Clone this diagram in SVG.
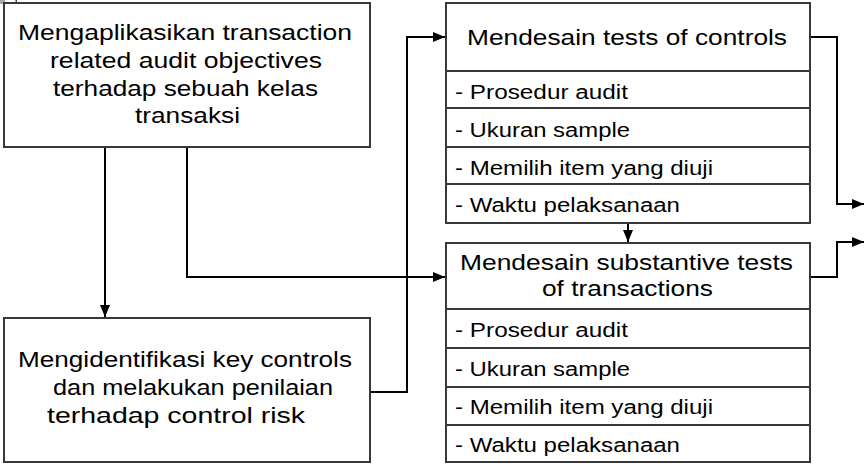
<svg xmlns="http://www.w3.org/2000/svg" width="864" height="466" viewBox="0 0 864 466">
  <style>
    .box { fill: #ffffff; stroke: #383838; stroke-width: 2; }
    .div { stroke: #383838; stroke-width: 2; }
    .lbl { font-family: "Liberation Sans", Arial, sans-serif; font-size: 21.5px; fill: #000000; }
    .item { font-family: "Liberation Sans", Arial, sans-serif; font-size: 20px; fill: #000000; }
    .conn { fill: none; stroke: #000000; stroke-width: 2; }
  </style>
  <defs>
    <marker id="arrow" markerUnits="userSpaceOnUse" markerWidth="12" markerHeight="10" refX="12" refY="5" orient="auto">
      <path d="M0,0 L12,5 L0,10 z" fill="#000000"/>
    </marker>
  </defs>

  <rect width="864" height="466" fill="#ffffff"/>

  <!-- corner marks -->
  <rect x="0" y="0" width="5" height="4" fill="#a8a8a8"/>
  <rect x="15.5" y="0" width="1.5" height="3" fill="#444444"/>

  <!-- connectors -->
  <g id="connectors">
    <path class="conn" d="M105,147 V317" marker-end="url(#arrow)"/>
    <path class="conn" d="M187,147 V277 H445" marker-end="url(#arrow)"/>
    <path class="conn" d="M370,392 H407 V37 H445" marker-end="url(#arrow)"/>
    <path class="conn" d="M628,223 V242" marker-end="url(#arrow)"/>
    <path class="conn" d="M810,37 H837 V204 H864" marker-end="url(#arrow)"/>
    <path class="conn" d="M810,277 H837 V242 H864" marker-end="url(#arrow)"/>
  </g>

  <!-- apply transaction-related audit objectives -->
  <g id="node-objectives">
    <rect class="box" x="4" y="3" width="366" height="144"/>
    <text class="lbl" x="18" y="40" textLength="334" lengthAdjust="spacingAndGlyphs">Mengaplikasikan transaction</text>
    <text class="lbl" x="50" y="68" textLength="272" lengthAdjust="spacingAndGlyphs">related audit objectives</text>
    <text class="lbl" x="53" y="96" textLength="265" lengthAdjust="spacingAndGlyphs">terhadap sebuah kelas</text>
    <text class="lbl" x="135" y="123" textLength="105" lengthAdjust="spacingAndGlyphs">transaksi</text>
  </g>

  <!-- identify key controls -->
  <g id="node-key-controls">
    <rect class="box" x="4" y="318" width="366" height="144"/>
    <text class="lbl" x="18" y="367" textLength="334" lengthAdjust="spacingAndGlyphs">Mengidentifikasi key controls</text>
    <text class="lbl" x="53" y="395" textLength="280" lengthAdjust="spacingAndGlyphs">dan melakukan penilaian</text>
    <text class="lbl" x="47" y="423" textLength="258" lengthAdjust="spacingAndGlyphs">terhadap control risk</text>
  </g>

  <!-- tests of controls -->
  <g id="node-tests-of-controls">
    <rect class="box" x="446" y="3" width="364" height="220"/>
    <line class="div" x1="446" y1="71" x2="810" y2="71"/>
    <line class="div" x1="446" y1="108" x2="810" y2="108"/>
    <line class="div" x1="446" y1="147" x2="810" y2="147"/>
    <line class="div" x1="446" y1="184" x2="810" y2="184"/>
    <text class="lbl" x="467" y="45" textLength="320" lengthAdjust="spacingAndGlyphs" style="font-size:22.5px">Mendesain tests of controls</text>
    <text class="item" x="455" y="99" textLength="173" lengthAdjust="spacingAndGlyphs">- Prosedur audit</text>
    <text class="item" x="455" y="137" textLength="175" lengthAdjust="spacingAndGlyphs">- Ukuran sample</text>
    <text class="item" x="455" y="175" textLength="258" lengthAdjust="spacingAndGlyphs">- Memilih item yang diuji</text>
    <text class="item" x="455" y="212" textLength="225" lengthAdjust="spacingAndGlyphs">- Waktu pelaksanaan</text>
  </g>

  <!-- substantive tests of transactions -->
  <g id="node-substantive-tests">
    <rect class="box" x="446" y="243" width="364" height="219"/>
    <line class="div" x1="446" y1="309" x2="810" y2="309"/>
    <line class="div" x1="446" y1="348" x2="810" y2="348"/>
    <line class="div" x1="446" y1="387" x2="810" y2="387"/>
    <line class="div" x1="446" y1="425" x2="810" y2="425"/>
    <text class="lbl" x="460" y="270" textLength="333" lengthAdjust="spacingAndGlyphs">Mendesain substantive tests</text>
    <text class="lbl" x="542" y="296" textLength="171" lengthAdjust="spacingAndGlyphs">of transactions</text>
    <text class="item" x="455" y="337" textLength="173" lengthAdjust="spacingAndGlyphs">- Prosedur audit</text>
    <text class="item" x="455" y="376" textLength="175" lengthAdjust="spacingAndGlyphs">- Ukuran sample</text>
    <text class="item" x="455" y="414" textLength="258" lengthAdjust="spacingAndGlyphs">- Memilih item yang diuji</text>
    <text class="item" x="455" y="452" textLength="225" lengthAdjust="spacingAndGlyphs">- Waktu pelaksanaan</text>
  </g>
</svg>
